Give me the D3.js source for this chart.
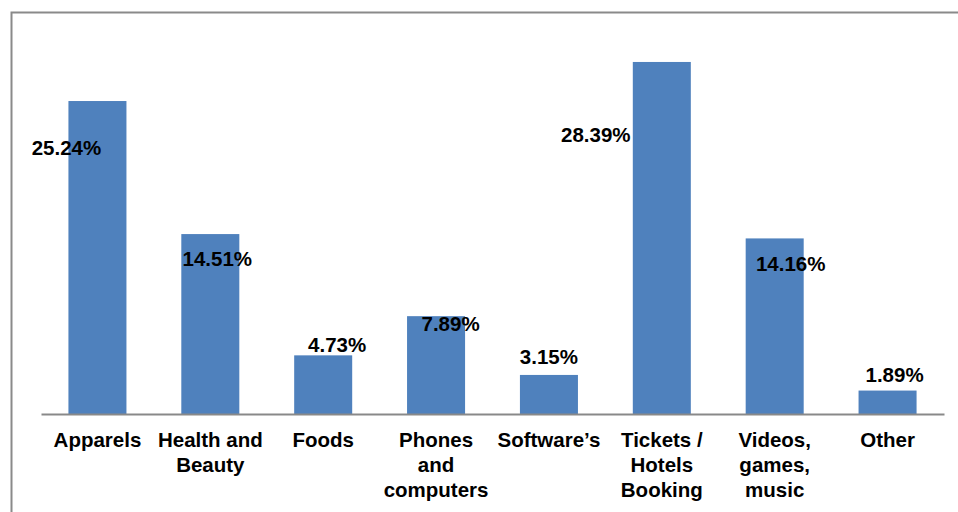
<!DOCTYPE html>
<html>
<head>
<meta charset="utf-8">
<script src="https://cdn.jsdelivr.net/npm/d3@7/dist/d3.min.js"></script>
<style>
  html, body { margin: 0; padding: 0; background: #fff; }
  svg { display: block; font-family: "Liberation Sans", Arial, sans-serif; }
</style>
</head>
<body>
<svg id="chart" width="958" height="512"></svg>
<script>
// Share of online purchases by category (%)
const categories = [
  "Apparels", "Health and Beauty", "Foods", "Phones and computers",
  "Software\u2019s", "Tickets / Hotels Booking", "Videos, games, music", "Other"
];
const shares = [25.24, 14.51, 4.73, 7.89, 3.15, 28.39, 14.16, 1.89];
const valueLabels = ["25.24%", "14.51%", "4.73%", "7.89%", "3.15%", "28.39%", "14.16%", "1.89%"];

// Where each value label sits relative to its bar (centre offset, baseline below bar top)
const labelOffsets = [
  [-31, 54], [7, 32], [14, -3], [14.5, 15], [0, -11], [-66, 80], [16, 33], [7, -9]
];

const svg = d3.select("#chart");
const plot = { left: 41, right: 944, top: 42, bottom: 414 };
const fontSize = 20.5;

// Outer frame (only the top and left edges fall inside the view)
svg.append("path")
  .attr("d", "M11.5,512 V12.5 H958")
  .attr("fill", "none")
  .attr("stroke", "#8a8a8a")
  .attr("stroke-width", 2);

const x = d3.scaleBand()
  .domain(categories)
  .range([plot.left, plot.right])
  .paddingInner(0.486)
  .paddingOuter(0.243);

const y = d3.scaleLinear()
  .domain([0, 30])
  .range([plot.bottom, plot.top]);

// Bars
svg.append("g")
  .selectAll("rect")
  .data(categories)
  .join("rect")
  .attr("x", d => x(d))
  .attr("y", (d, i) => y(shares[i]))
  .attr("width", x.bandwidth())
  .attr("height", (d, i) => y(0) - y(shares[i]))
  .attr("fill", "#4f81bd");

// Category axis
const xAxis = svg.append("g")
  .attr("transform", `translate(0,${plot.bottom})`)
  .call(d3.axisBottom(x).tickSize(0).tickPadding(0));
xAxis.select(".domain")
  .attr("stroke", "#898989")
  .attr("stroke-width", 2);
xAxis.selectAll(".tick text").remove();

// Wrapped category labels
const maxWidth = 108;
const lineStep = 25;
xAxis.selectAll(".tick").each(function (d) {
  const g = d3.select(this);
  const text = g.append("text")
    .attr("text-anchor", "middle")
    .attr("fill", "#000")
    .attr("font-size", fontSize)
    .attr("font-weight", "bold")
    .attr("font-family", "'Liberation Sans', Arial, sans-serif");
  const words = d.split(" ");
  let line = [];
  let lineNo = 0;
  let tspan = text.append("tspan").attr("x", 0).attr("y", 33);
  words.forEach(w => {
    line.push(w);
    tspan.text(line.join(" "));
    if (tspan.node().getComputedTextLength() > maxWidth && line.length > 1) {
      line.pop();
      tspan.text(line.join(" "));
      line = [w];
      lineNo += 1;
      tspan = text.append("tspan").attr("x", 0).attr("y", 33 + lineNo * lineStep).text(w);
    }
  });
});

// Value labels
svg.append("g")
  .selectAll("text")
  .data(categories)
  .join("text")
  .attr("x", (d, i) => x(d) + x.bandwidth() / 2 + labelOffsets[i][0])
  .attr("y", (d, i) => y(shares[i]) + labelOffsets[i][1])
  .attr("text-anchor", "middle")
  .attr("font-size", fontSize)
  .attr("font-weight", "bold")
  .attr("fill", "#000")
  .text((d, i) => valueLabels[i]);
</script>
</body>
</html>
